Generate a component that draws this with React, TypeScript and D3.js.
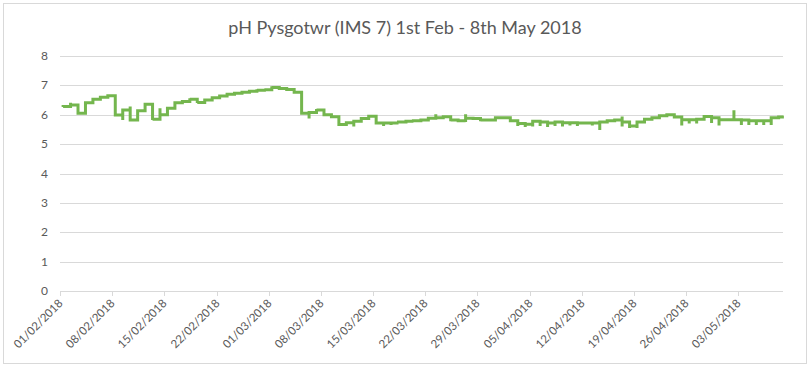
import React from "react";
import * as d3 from "d3";

const title = "pH Pysgotwr (IMS 7) 1st Feb - 8th May 2018";
const yTicks = [0, 1, 2, 3, 4, 5, 6, 7, 8];
const tickLabels = [
  "01/02/2018", "08/02/2018", "15/02/2018", "22/02/2018", "01/03/2018", "08/03/2018", "15/03/2018",
  "22/03/2018", "29/03/2018", "05/04/2018", "12/04/2018", "19/04/2018", "26/04/2018", "03/05/2018",
];
// Daily readings (day 0 = 01/02/2018): value held at end of day, plus the day's low/high
const dailyClose = [
  6.28, 6.33, 6.05, 6.41, 6.53, 6.6, 6.65, 5.99, 6.16, 5.82,
  6.14, 6.36, 5.85, 6.0, 6.22, 6.41, 6.45, 6.53, 6.42, 6.5,
  6.58, 6.64, 6.7, 6.73, 6.77, 6.8, 6.83, 6.85, 6.93, 6.89,
  6.86, 6.77, 6.05, 6.08, 6.16, 6.0, 5.93, 5.67, 5.73, 5.78,
  5.87, 5.95, 5.72, 5.72, 5.72, 5.75, 5.78, 5.8, 5.82, 5.88,
  5.9, 5.93, 5.82, 5.8, 5.88, 5.87, 5.82, 5.82, 5.9, 5.9,
  5.8, 5.7, 5.68, 5.78, 5.75, 5.72, 5.75, 5.73, 5.73, 5.72,
  5.72, 5.72, 5.75, 5.8, 5.82, 5.75, 5.62, 5.75, 5.85, 5.9,
  5.97, 6.0, 5.92, 5.83, 5.83, 5.85, 5.94, 5.9, 5.83, 5.83,
  5.83, 5.82, 5.8, 5.8, 5.8, 5.9, 5.92,
];
const dailyLow = [
  6.26, 6.33, 6.05, 6.41, 6.53, 6.6, 6.65, 5.99, 5.82, 5.82,
  6.14, 6.36, 5.82, 6.0, 6.22, 6.41, 6.45, 6.53, 6.4, 6.5,
  6.58, 6.64, 6.7, 6.73, 6.77, 6.8, 6.83, 6.78, 6.93, 6.89,
  6.86, 6.77, 6.05, 5.87, 6.16, 5.95, 5.93, 5.67, 5.73, 5.6,
  5.87, 5.95, 5.72, 5.62, 5.65, 5.7, 5.78, 5.76, 5.82, 5.88,
  5.9, 5.93, 5.78, 5.8, 5.75, 5.87, 5.78, 5.82, 5.9, 5.9,
  5.8, 5.62, 5.58, 5.6, 5.62, 5.58, 5.62, 5.6, 5.63, 5.62,
  5.72, 5.63, 5.48, 5.7, 5.82, 5.6, 5.55, 5.55, 5.85, 5.9,
  5.97, 6.0, 5.92, 5.63, 5.7, 5.7, 5.94, 5.72, 5.63, 5.83,
  5.83, 5.65, 5.65, 5.65, 5.65, 5.65, 5.92,
];
const dailyHigh = [
  6.28, 6.41, 6.05, 6.41, 6.53, 6.6, 6.65, 5.99, 6.16, 6.28,
  6.14, 6.36, 5.85, 6.22, 6.22, 6.41, 6.45, 6.56, 6.42, 6.5,
  6.58, 6.64, 6.7, 6.73, 6.77, 6.8, 6.87, 6.87, 6.97, 6.89,
  6.86, 6.87, 6.05, 6.08, 6.2, 6.0, 5.93, 5.67, 5.73, 5.78,
  5.87, 5.95, 5.72, 5.72, 5.72, 5.75, 5.78, 5.8, 5.82, 5.88,
  6.02, 5.93, 5.82, 5.8, 6.02, 5.87, 5.82, 5.82, 5.9, 5.9,
  5.8, 5.7, 5.68, 5.78, 5.75, 5.72, 5.75, 5.73, 5.73, 5.72,
  5.72, 5.72, 5.75, 5.8, 5.82, 5.94, 5.62, 5.75, 5.85, 5.9,
  5.97, 6.05, 5.92, 5.83, 5.83, 5.85, 5.94, 5.9, 5.83, 5.83,
  6.15, 5.82, 5.8, 5.8, 5.8, 5.9, 5.92,
];

const startDate = new Date(2018, 1, 1);
const endDate = new Date(2018, 4, 9);
const sampleHour = 10;

export default function App() {
  const W = 812, H = 369;
  const left = 60, right = 783, top = 56, bottom = 291;
  const x = d3.scaleTime().domain([startDate, endDate]).range([left, right]);
  const y = d3.scaleLinear().domain([0, 8]).range([bottom, top]);
  const dayDate = (d: number, h = sampleHour) => d3.timeHour.offset(d3.timeDay.offset(startDate, d), h);

  const pts: [Date, number][] = [];
  dailyClose.forEach((c, i) => {
    const t = dayDate(i);
    const prev = i === 0 ? c : dailyClose[i - 1];
    pts.push([t, prev], [t, dailyLow[i]], [t, dailyHigh[i]], [t, c]);
  });
  const last = dailyClose.length - 1;
  pts.push([dayDate(last, 22), dailyClose[last]]);

  const line = d3.line<[Date, number]>().x((p) => x(p[0])).y((p) => y(p[1]));
  const font = "Lato, 'Open Sans', sans-serif";

  return (
    <svg width={W} height={H} style={{ position: "absolute", left: 0, top: 0 }} fontFamily={font}>
      <rect x={0} y={0} width={W} height={H} fill="#fff" />
      <rect x={3.5} y={3.5} width={803} height={360} fill="#fff" stroke="#d9d9d9" />
      <text x={405} y={34} textAnchor="middle" fontSize={18} fill="#595959">{title}</text>
      {yTicks.map((v) => (
        <g key={v}>
          {v > 0 && <line x1={left} x2={right} y1={Math.round(y(v)) + 0.5} y2={Math.round(y(v)) + 0.5} stroke="#d9d9d9" strokeWidth={1} />}
          <text x={48} y={y(v) + 4} textAnchor="end" fontSize={12} fill="#595959">{v}</text>
        </g>
      ))}
      <line x1={left} x2={right} y1={bottom + 0.5} y2={bottom + 0.5} stroke="#d9d9d9" />
      {tickLabels.map((lab, i) => {
        const tx = Math.round(x(d3.timeDay.offset(startDate, i * 7))) + 0.5;
        return (
          <g key={lab}>
            <line x1={tx} x2={tx} y1={bottom} y2={bottom + 5} stroke="#d9d9d9" />
            <text transform={`translate(${tx + 3},${bottom + 13}) rotate(-45)`} textAnchor="end" fontSize={11.5} fill="#595959">{lab}</text>
          </g>
        );
      })}
      <path d={line(pts) || ""} fill="none" stroke="#74b64e" strokeWidth={3} strokeLinejoin="miter" strokeLinecap="square" />
    </svg>
  );
}
